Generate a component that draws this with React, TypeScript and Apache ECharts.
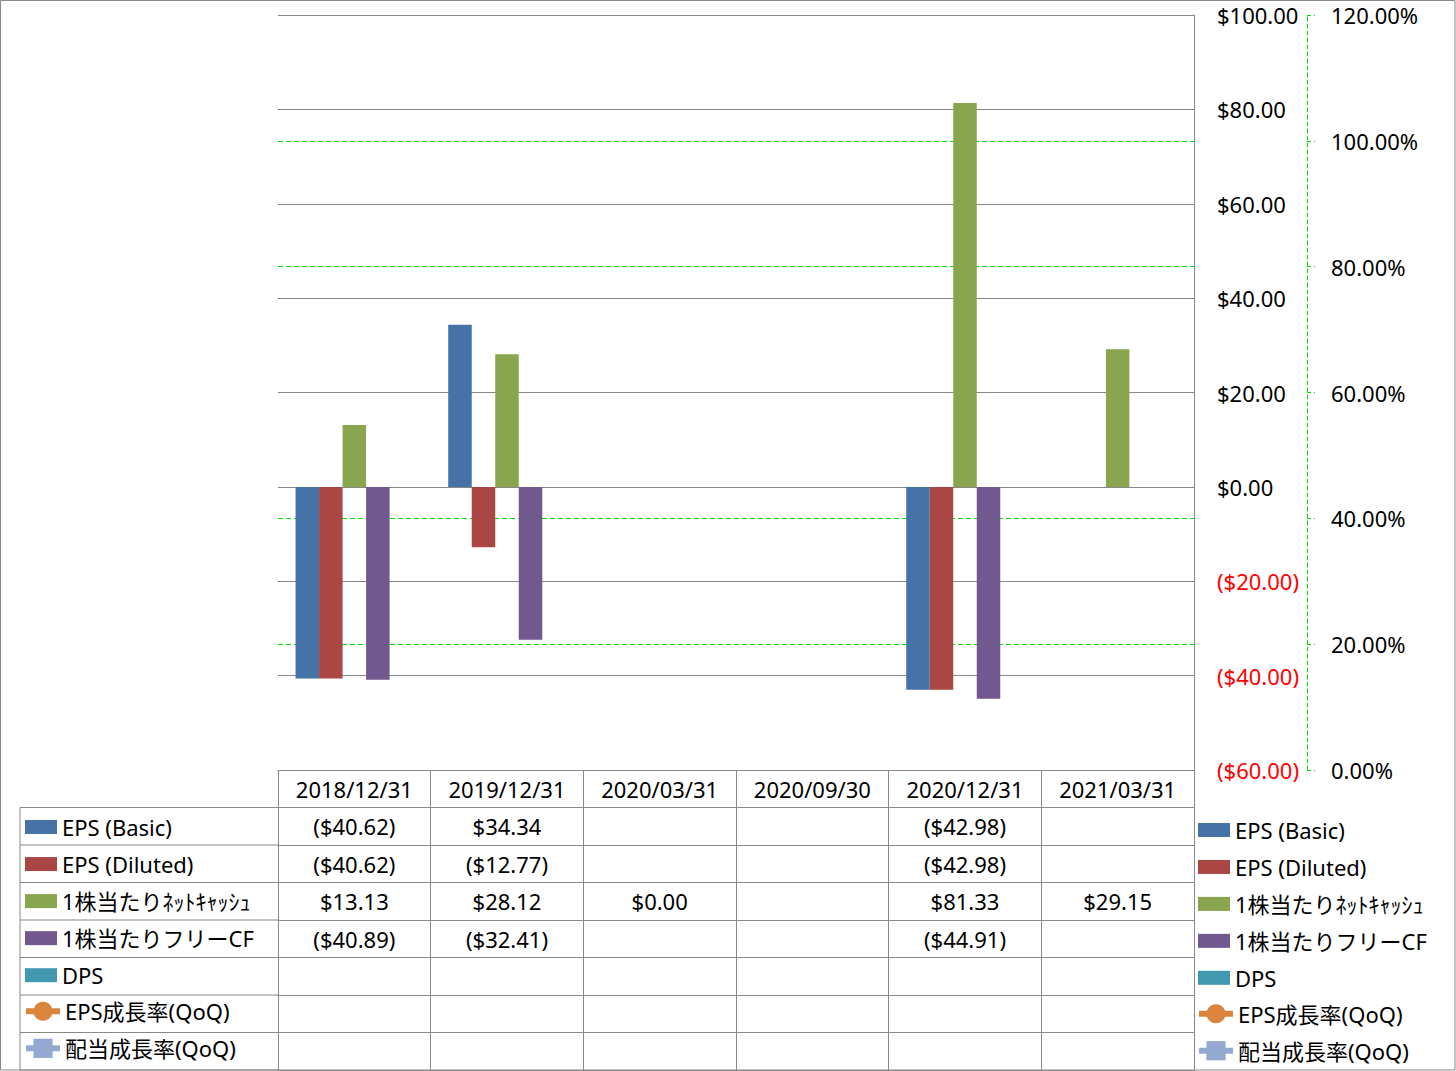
import React, { useEffect, useRef } from "react";
import * as echarts from "echarts";

// ---------- data ----------
const categories = ["2018/12/31", "2019/12/31", "2020/03/31", "2020/09/30", "2020/12/31", "2021/03/31"];
const epsBasic: (number | null)[] = [-40.62, 34.34, null, null, -42.98, null];
const epsDiluted: (number | null)[] = [-40.62, -12.77, null, null, -42.98, null];
const netCashPerShare: (number | null)[] = [13.13, 28.12, 0, null, 81.33, 29.15];
const freeCfPerShare: (number | null)[] = [-40.89, -32.41, null, null, -44.91, null];
const dps: (number | null)[] = [null, null, null, null, null, null];
const epsGrowth: (number | null)[] = [null, null, null, null, null, null];
const divGrowth: (number | null)[] = [null, null, null, null, null, null];

const seriesNames = [
  "EPS (Basic)",
  "EPS (Diluted)",
  "1株当たりﾈｯﾄｷｬｯｼｭ",
  "1株当たりフリーCF",
  "DPS",
  "EPS成長率(QoQ)",
  "配当成長率(QoQ)",
];
const seriesColors = ["#4572A7", "#AA4643", "#89A54E", "#71588F", "#4198AF", "#DB843D", "#93A9CF"];

const primaryMin = -60;
const primaryMax = 100;
const primaryStep = 20;
const secondaryMin = 0;
const secondaryMax = 1.2;
const secondaryStep = 0.2;

// ---------- layout / style ----------
const W = 1456;
const H = 1071;
const PLOT_LEFT = 278;
const PLOT_RIGHT = 1194;
const PLOT_TOP = 15;
const PLOT_BOTTOM = 770;
const ROW_H = 37.5;
const LEFT_COL_X = 20;
const GRID_GREY = "#888888";
const GREEN = "#00E000";
const FONT = "'Noto Sans', 'Noto Sans CJK JP', sans-serif";
const FS = 22;

const money = (v: number | null) =>
  v == null ? "" : v < 0 ? `($${Math.abs(v).toFixed(2)})` : `$${v.toFixed(2)}`;
const pct = (v: number | null) => (v == null ? "" : `${(v * 100).toFixed(2)}%`);

export default function App() {
  const ref = useRef<HTMLDivElement>(null);

  useEffect(() => {
    if (!ref.current) return;
    const chart = echarts.init(ref.current, undefined, { renderer: "svg" });

    const seriesData = [epsBasic, epsDiluted, netCashPerShare, freeCfPerShare, dps, epsGrowth, divGrowth];
    const rowFormatters = [money, money, money, money, money, pct, pct];

    const rowAxis = (offset: number, formatter?: any, withTicks = true, withLabels = true) => ({
      type: "category",
      data: categories,
      position: "bottom",
      offset,
      boundaryGap: true,
      axisLine: { show: true, onZero: false, lineStyle: { color: GRID_GREY, width: 1 } },
      axisTick: {
        show: withTicks,
        length: ROW_H,
        interval: 0,
        lineStyle: { color: GRID_GREY, width: 1 },
      },
      axisLabel: {
        show: withLabels,
        interval: 0,
        margin: ROW_H / 2,
        verticalAlign: "middle",
        fontSize: FS,
        fontFamily: FONT,
        color: "#000",
        ...(formatter ? { formatter } : {}),
      },
      splitLine: { show: false },
    });

    // table rows as category axes
    const xAxes: any[] = [rowAxis(0)];
    seriesData.forEach((row, k) => {
      const f = rowFormatters[k];
      xAxes.push(rowAxis((k + 1) * ROW_H, (_v: string, i: number) => f(row[i])));
    });
    xAxes.push(rowAxis(8 * ROW_H, undefined, false, false));

    const series: any[] = seriesNames.map((name, i) => {
      if (i < 5) {
        return {
          name,
          type: "bar",
          xAxisIndex: 0,
          yAxisIndex: 0,
          data: seriesData[i],
          barGap: "0%",
          barCategoryGap: "23%",
          itemStyle: { color: seriesColors[i] },
        };
      }
      return {
        name,
        type: "line",
        xAxisIndex: 0,
        yAxisIndex: 1,
        data: seriesData[i],
        symbol: i === 5 ? "circle" : "rect",
        symbolSize: 14,
        itemStyle: { color: seriesColors[i] },
        lineStyle: { color: seriesColors[i], width: 5 },
      };
    });

    const makeLegends = (left: number, startY: number, step: number) =>
      seriesNames.map((name, i) => {
        const isLine = i >= 5;
        return {
          show: true,
          data: [
            isLine
              ? { name, lineStyle: { width: 6, color: seriesColors[i] } }
              : { name, icon: "rect" },
          ],
          orient: "vertical",
          left: isLine ? left - 2 : left,
          top: startY + i * step - (isLine ? 12 : 11),
          padding: 0,
          itemGap: 0,
          itemWidth: isLine ? 34 : 32,
          itemHeight: isLine ? 24 : 14,
          selectedMode: false,
          ...(isLine ? { lineStyle: { width: 6, color: seriesColors[i] } } : {}),
          textStyle: { fontSize: FS, fontFamily: FONT, color: "#000", lineHeight: 22 },
        };
      });

    const lines: any[] = [];
    lines.push({
      type: "line",
      shape: { x1: LEFT_COL_X, y1: PLOT_BOTTOM + ROW_H, x2: LEFT_COL_X, y2: PLOT_BOTTOM + 8 * ROW_H },
      style: { stroke: GRID_GREY, lineWidth: 1 },
    });
    for (let k = 1; k <= 8; k++) {
      lines.push({
        type: "line",
        shape: { x1: LEFT_COL_X, y1: PLOT_BOTTOM + k * ROW_H, x2: PLOT_LEFT, y2: PLOT_BOTTOM + k * ROW_H },
        style: { stroke: GRID_GREY, lineWidth: 1 },
      });
    }
    lines.push({
      type: "rect",
      shape: { x: 0.5, y: 0.5, width: W - 1.5, height: H - 1.5 },
      style: { fill: "none", stroke: GRID_GREY, lineWidth: 1 },
    });

    chart.setOption({
      animation: false,
      backgroundColor: "#fff",
      grid: {
        left: PLOT_LEFT,
        right: W - PLOT_RIGHT,
        top: PLOT_TOP,
        bottom: H - PLOT_BOTTOM,
        containLabel: false,
        outerBoundsMode: "none",
      },
      legend: [...makeLegends(25, 827, 37.05), ...makeLegends(1198, 830, 36.95)],
      xAxis: xAxes,
      yAxis: [
        {
          type: "value",
          position: "right",
          min: primaryMin,
          max: primaryMax,
          interval: primaryStep,
          z: 1,
          axisLine: { show: true, onZero: false, lineStyle: { color: GRID_GREY, width: 1 } },
          axisTick: { show: false },
          axisLabel: {
            margin: 23,
            fontSize: FS,
            fontFamily: FONT,
            formatter: (v: number) => money(Number(v)),
            color: (v: any) => (Number(v) < 0 ? "#FF0000" : "#000000"),
          },
          splitLine: { show: true, lineStyle: { color: GRID_GREY, width: 1, type: "solid" } },
        },
        {
          type: "value",
          position: "right",
          offset: 113,
          min: secondaryMin,
          max: secondaryMax,
          interval: secondaryStep,
          axisLine: { show: true, onZero: false, lineStyle: { color: GREEN, width: 1, type: [4, 3] } },
          axisTick: { show: true, length: 8, lineStyle: { color: GREEN, width: 1, type: [4, 3] } },
          axisLabel: {
            margin: 24,
            fontSize: FS,
            fontFamily: FONT,
            color: "#000",
            formatter: (v: number) => pct(Number(v)),
          },
          splitLine: { show: true, lineStyle: { color: GREEN, width: 1, type: [5, 3] } },
        },
      ],
      graphic: lines,
      series,
    });

    return () => chart.dispose();
  }, []);

  return (
    <div
      ref={ref}
      style={{ position: "fixed", left: 0, top: 0, width: W, height: H, background: "#fff" }}
    />
  );
}
